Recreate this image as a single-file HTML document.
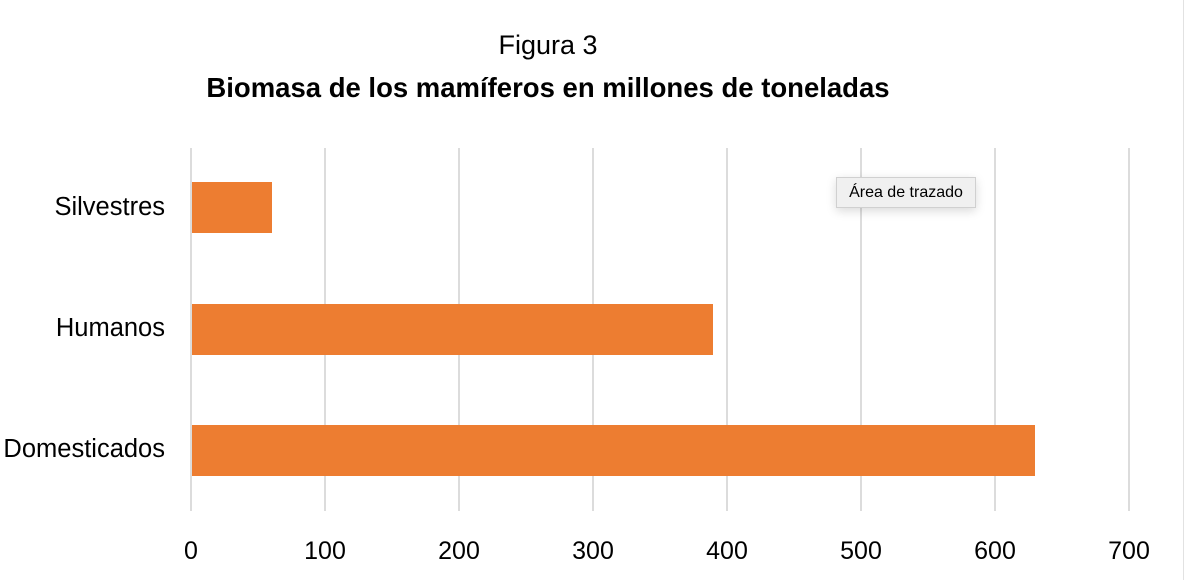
<!DOCTYPE html>
<html><head><meta charset="utf-8"><style>
body{margin:0;width:1191px;height:580px;background:#fff;overflow:hidden;position:relative;font-family:"Liberation Sans",sans-serif;color:#000}
.t{position:absolute;white-space:nowrap}
.g{position:absolute;top:148px;height:363px;width:2px;background:#dcdcdc}
.b{position:absolute;left:192px;height:51px;background:#ed7d31}
.x{position:absolute;top:537px;font-size:25px;width:80px;text-align:center}
.c{position:absolute;right:1026px;font-size:25.5px;text-align:right}
</style></head><body>
<div class="t" style="left:0;width:1096px;text-align:center;top:30px;font-size:27px">Figura 3</div>
<div class="t" style="left:0;width:1096px;text-align:center;top:72px;font-size:27.5px;font-weight:bold">Biomasa de los mamíferos en millones de toneladas</div>
<div class="g" style="left:190px"></div><div class="g" style="left:324px"></div><div class="g" style="left:458px"></div><div class="g" style="left:592px"></div><div class="g" style="left:726px"></div><div class="g" style="left:860px"></div><div class="g" style="left:994px"></div><div class="g" style="left:1128px"></div>
<div style="position:absolute;left:1183px;top:0;width:1px;height:580px;background:#e2e2e2"></div>
<div class="b" style="top:182px;width:80px"></div>
<div class="b" style="top:304px;width:521px"></div>
<div class="b" style="top:425px;width:843px"></div>
<div class="c" style="top:193px">Silvestres</div>
<div class="c" style="top:314px">Humanos</div>
<div class="c" style="top:435px">Domesticados</div>
<div class="x" style="left:151px">0</div><div class="x" style="left:285px">100</div><div class="x" style="left:419px">200</div><div class="x" style="left:553px">300</div><div class="x" style="left:687px">400</div><div class="x" style="left:821px">500</div><div class="x" style="left:955px">600</div><div class="x" style="left:1089px">700</div>
<div style="position:absolute;left:836px;top:177px;width:138px;height:29px;background:#f0f0f0;border:1px solid #d0d0d0;box-shadow:0 3px 10px rgba(0,0,0,0.15);font-size:16px;line-height:29px;text-align:center">Área de trazado</div>
</body></html>
